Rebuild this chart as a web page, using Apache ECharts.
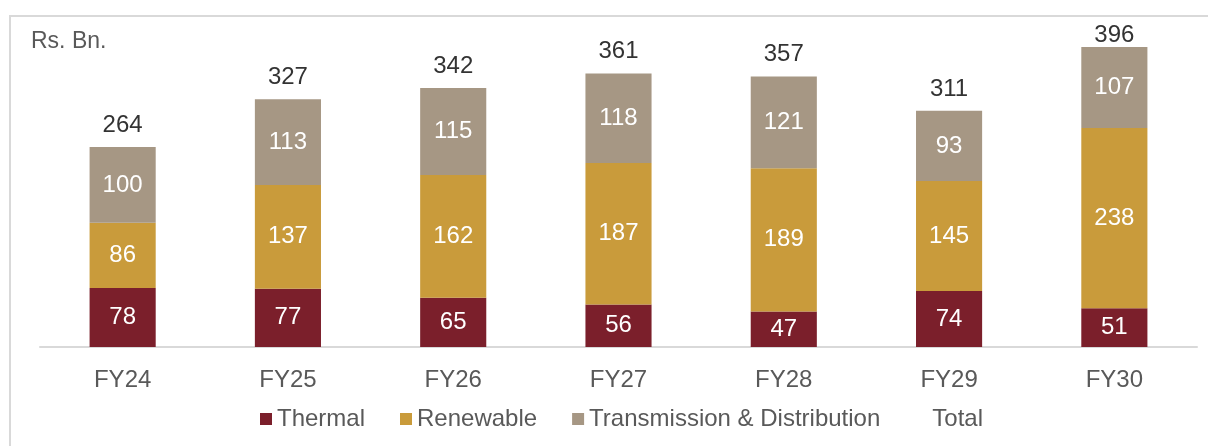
<!DOCTYPE html>
<html>
<head>
<meta charset="utf-8">
<script src="https://cdn.jsdelivr.net/npm/echarts@6/dist/echarts.min.js"></script>
<style>
html,body{margin:0;padding:0;background:#fff;}
#chart{width:1208px;height:446px;}
</style>
</head>
<body>
<div id="chart"></div>
<script>
const categories = ['FY24','FY25','FY26','FY27','FY28','FY29','FY30'];
const thermal = [78, 77, 65, 56, 47, 74, 51];
const renewable = [86, 137, 162, 187, 189, 145, 238];
const transmission = [100, 113, 115, 118, 121, 93, 107];
const total = [264, 327, 342, 361, 357, 311, 396];
const unitLabel = 'Rs. Bn.';

const FONT = 'Liberation Sans, Arial, sans-serif';
const chart = echarts.init(document.getElementById('chart'));

const innerLabel = {
  show: true, position: 'inside', color: '#ffffff',
  fontSize: 24, fontFamily: FONT
};

// the tallest total label sits closer to its bar (kept inside the frame)
const maxTotal = Math.max(...total);
const totalData = total.map(v => v === maxTotal ? { value: v, label: { distance: 0 } } : v);

chart.setOption({
  animation: false,
  graphic: [
    { type: 'rect', shape: { x: 10, y: 16, width: 1220, height: 460 },
      style: { fill: 'none', stroke: '#d9d9d9', lineWidth: 2 }, silent: true },
    { type: 'text', left: 31, top: 30,
      style: { text: unitLabel, fill: '#595959', fontSize: 23, fontFamily: FONT } }
  ],
  grid: { left: 40, right: 11, top: 44, bottom: 99 },
  legend: {
    bottom: 10, left: 255,
    itemWidth: 12, itemHeight: 12, itemGap: 35,
    icon: 'rect',
    textStyle: { color: '#595959', fontSize: 24, fontFamily: FONT },
    data: ['Thermal', 'Renewable', 'Transmission & Distribution',
      { name: 'Total', itemStyle: { color: 'rgba(0,0,0,0)' } }]
  },
  xAxis: {
    type: 'category', data: categories,
    axisLine: { lineStyle: { color: '#d9d9d9', width: 2 } },
    axisTick: { show: false },
    axisLabel: { color: '#595959', fontSize: 24, fontFamily: FONT, margin: 21 }
  },
  yAxis: {
    type: 'value', min: 0, max: 400, show: false,
    splitLine: { show: false }
  },
  series: [
    { name: 'Thermal', type: 'bar', stack: 'a', data: thermal, barWidth: '40%',
      itemStyle: { color: '#7b1f2b' }, label: innerLabel },
    { name: 'Renewable', type: 'bar', stack: 'a', data: renewable, barWidth: '40%',
      itemStyle: { color: '#c99b3b' }, label: innerLabel },
    { name: 'Transmission & Distribution', type: 'bar', stack: 'a', data: transmission, barWidth: '40%',
      itemStyle: { color: '#a69784' }, label: innerLabel },
    { name: 'Total', type: 'bar', data: totalData, barWidth: '40%', barGap: '-100%', z: 1,
      itemStyle: { color: 'rgba(0,0,0,0)' },
      label: { show: true, position: 'top', distance: 10, color: '#333333', fontSize: 24, fontFamily: FONT } }
  ]
});
</script>
</body>
</html>
